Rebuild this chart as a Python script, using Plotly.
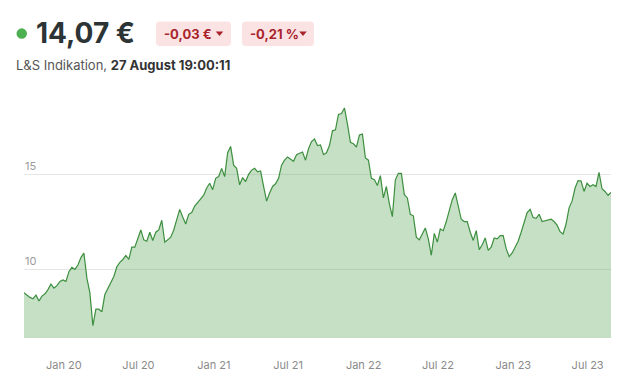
import pandas as pd
import plotly.graph_objects as go

# ---------------- data ----------------
start_date = "2019-09-26"
end_date = "2023-08-27"

prices_2019_2020a = [8.80, 8.68, 8.56, 8.49, 8.68, 8.37, 8.63, 8.75, 8.97, 9.26, 9.05,
                     9.18, 9.40, 9.48, 9.40, 9.91, 10.14, 10.03, 10.26, 10.65, 10.89,
                     9.57, 8.80, 7.08, 7.94, 7.94, 7.80, 8.71, 9.05, 9.40, 9.66, 10.17, 10.40]
prices_2020b = [10.55, 10.76, 10.55, 11.20, 11.20, 11.68, 12.10, 11.58, 11.51, 11.98, 11.55,
                11.98, 12.10, 12.61, 11.46, 11.58, 11.72, 12.10, 12.58, 13.18, 12.78, 12.41,
                12.92, 13.01, 13.35, 13.57, 13.73, 13.92, 14.30, 14.55, 14.21]
prices_2021a = [14.81, 14.90, 15.33, 14.90, 16.15, 16.48, 15.50, 15.33, 14.47, 14.85, 14.64,
                15.02, 15.24, 15.33, 15.15, 15.19, 14.38, 13.61, 14.04, 14.38, 14.52, 14.81,
                15.50, 15.76, 15.93, 15.79, 15.70, 16.05, 16.10, 16.19, 15.76, 16.36]
prices_2021b = [16.74, 16.87, 16.53, 16.56, 16.05, 16.15, 16.53, 17.30, 17.35, 18.16, 18.21,
                18.50, 17.65, 16.70, 16.62, 16.44, 17.08, 17.13, 15.88, 15.76, 14.81, 14.73,
                14.43, 14.95, 13.78, 14.38, 13.47, 12.80, 14.73, 15.07, 15.07, 13.95]
prices_2022 = [13.78, 12.92, 12.84, 11.72, 11.58, 11.89, 12.20, 11.63, 10.77, 11.92, 11.46,
               12.15, 12.06, 12.54, 13.18, 13.69, 14.04, 13.35, 12.66, 12.54, 12.54, 11.98,
               11.55, 12.06, 11.07, 11.32, 11.68, 11.03, 11.20, 11.68, 11.63]
prices_2023 = [11.80, 11.80, 11.12, 10.70, 10.89, 11.17, 11.51, 11.98, 12.54, 13.01, 13.18,
               12.75, 12.71, 12.92, 12.54, 12.58, 12.66, 12.66, 12.54, 12.35, 12.01, 11.89,
               12.41, 13.26, 13.61, 14.30, 14.69, 14.67, 14.12, 14.55, 14.38, 14.47, 14.38,
               15.12, 14.26, 14.12, 13.92, 14.07]

prices = (prices_2019_2020a + prices_2020b + prices_2021a + prices_2021b
          + prices_2022 + prices_2023)
dates = pd.date_range(start_date, end_date, periods=len(prices))

y_ticks = [10, 15]
y_range = [6.43, 19.18]

price_text = "14,07 €"
change_abs = "-0,03 €"
change_pct = "-0,21 %"
subtitle_plain = "L&S Indikation, "
subtitle_bold = "27 August 19:00:11"

# ---------------- layout geometry (page pixels) ----------------
W_PX, H_PX = 635, 376
OFF = 8  # default page body margin
L, R, T, B = 24, 611, 95, 343
PW, PH = R - L, B - T


def fx(x):
    return (x - L) / PW


def fy(y):
    return (B - y) / PH


def rounded_rect(x0, y0, x1, y1, r):
    pts = [
        ("M", [(x0 + r, y0)]),
        ("L", [(x1 - r, y0)]),
        ("Q", [(x1, y0), (x1, y0 + r)]),
        ("L", [(x1, y1 - r)]),
        ("Q", [(x1, y1), (x1 - r, y1)]),
        ("L", [(x0 + r, y1)]),
        ("Q", [(x0, y1), (x0, y1 - r)]),
        ("L", [(x0, y0 + r)]),
        ("Q", [(x0, y0), (x0 + r, y0)]),
    ]
    s = ""
    for cmd, ps in pts:
        s += cmd + " ".join(f"{fx(a):.5f},{fy(b):.5f}" for a, b in ps) + " "
    return s + "Z"


def triangle(xc, yc, w, h):
    return (f"M{fx(xc - w / 2):.5f},{fy(yc - h / 2):.5f} "
            f"L{fx(xc + w / 2):.5f},{fy(yc - h / 2):.5f} "
            f"L{fx(xc):.5f},{fy(yc + h / 2):.5f} Z")


FONT = "Inter"
DARK = "#2d3436"
RED = "#a8232b"
BADGE_BG = "#fbe3e3"

fig = go.Figure()
fig.add_trace(go.Scatter(
    x=dates, y=prices, mode="lines",
    line=dict(color="#3d8f3f", width=1.2),
    fill="tozeroy",
    fillcolor="rgba(80,160,80,0.33)",
    hoverinfo="skip",
))

shapes = [
    dict(type="circle", xref="paper", yref="paper",
         x0=fx(16.5), x1=fx(27), y0=fy(37.5), y1=fy(27),
         fillcolor="#4caf50", line=dict(width=0)),
    dict(type="path", xref="paper", yref="paper",
         path=rounded_rect(156, 20, 231, 45, 4), fillcolor=BADGE_BG, line=dict(width=0)),
    dict(type="path", xref="paper", yref="paper",
         path=rounded_rect(242, 20, 314, 45, 4), fillcolor=BADGE_BG, line=dict(width=0)),
    dict(type="path", xref="paper", yref="paper",
         path=triangle(219.5, 32.5, 7.5, 4.5), fillcolor=RED, line=dict(width=0)),
    dict(type="path", xref="paper", yref="paper",
         path=triangle(303, 32.5, 7.5, 4.5), fillcolor=RED, line=dict(width=0)),
]

annotations = [
    dict(text=f"<b>{price_text}</b>", x=fx(34), y=fy(32), xref="paper", yref="paper",
         xanchor="left", yanchor="middle", showarrow=False,
         font=dict(family=FONT, size=28, color=DARK)),
    dict(text=f"<b>{change_abs}</b>", x=fx(162), y=fy(32.5), xref="paper", yref="paper",
         xanchor="left", yanchor="middle", showarrow=False,
         font=dict(family=FONT, size=13, color=RED)),
    dict(text=f"<b>{change_pct}</b>", x=fx(248), y=fy(32.5), xref="paper", yref="paper",
         xanchor="left", yanchor="middle", showarrow=False,
         font=dict(family=FONT, size=13, color=RED)),
    dict(text=f"<span style='color:#555'>{subtitle_plain}</span><b>{subtitle_bold}</b>",
         x=fx(14), y=fy(64), xref="paper", yref="paper",
         xanchor="left", yanchor="middle", showarrow=False,
         font=dict(family=FONT, size=13, color="#333")),
]

fig.update_layout(
    width=W_PX, height=H_PX,
    margin=dict(l=L - OFF, r=W_PX - (R - OFF), t=T - OFF, b=H_PX - (B - OFF), pad=0),
    paper_bgcolor="white", plot_bgcolor="white",
    showlegend=False,
    shapes=shapes, annotations=annotations,
    font=dict(family=FONT),
)
fig.update_xaxes(
    range=[dates[0], dates[-1]],
    dtick="M6", tick0="2020-01-01", tickformat="%b %y",
    showgrid=False, zeroline=False, showline=False, ticks="",
    tickfont=dict(family=FONT, size=11, color="#8a8a8a"),
    ticklabelstandoff=19,
)
fig.update_yaxes(
    range=y_range, tickvals=y_ticks,
    showgrid=True, gridcolor="#e6e6e6", gridwidth=1,
    zeroline=False, showline=False, ticks="",
    ticklabelposition="inside", ticklabelshift=-9, ticklabelstandoff=-2,
    tickfont=dict(family=FONT, size=11, color="#9a9a9a"),
    layer="below traces",
)

fig.write_html("out.html", config={"displayModeBar": False})
